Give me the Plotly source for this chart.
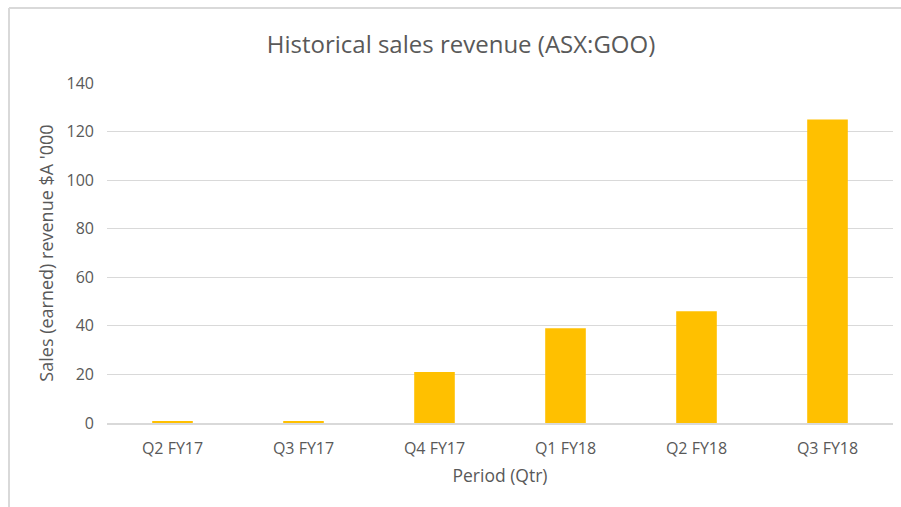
import plotly.graph_objects as go

periods = ["Q2 FY17", "Q3 FY17", "Q4 FY17", "Q1 FY18", "Q2 FY18", "Q3 FY18"]
revenue = [0.6, 0.6, 21, 39, 46, 125]
y_ticks = [0, 20, 40, 60, 80, 100, 120, 140]

W, H = 901, 507
L, R, T, B = 107, 8, 83, 84
pw, ph = W - L - R, H - T - B

def px(x):
    return (x - L) / pw

def py(y):
    return (H - B - y) / ph

FONT = "Open Sans, Liberation Sans, sans-serif"
GRAY = "#595959"

fig = go.Figure(go.Bar(
    x=periods, y=revenue, marker=dict(color="#FFC000", line=dict(width=0)),
    width=0.31,
))

fig.update_layout(
    width=W, height=H,
    margin=dict(l=L, r=R, t=T, b=B),
    paper_bgcolor="white", plot_bgcolor="white",
    showlegend=False,
    font=dict(family=FONT, color=GRAY),
    title=dict(text="Historical sales revenue (ASX:GOO)", xref="container", x=461 / W, xanchor="center",
               y=1 - 45 / H, yanchor="middle",
               font=dict(size=24, color=GRAY, family=FONT)),
    xaxis=dict(showgrid=False, showline=True, linecolor="#d9d9d9", linewidth=1.5,
               ticks="", tickfont=dict(size=16, color=GRAY), ticklabelstandoff=10,
               title=dict(text="Period (Qtr)", font=dict(size=17.5, color=GRAY), standoff=12)),
    yaxis=dict(range=[0, 140], tickvals=y_ticks, showgrid=True, gridcolor="#d9d9d9",
               gridwidth=1, zeroline=False, ticks="", tickfont=dict(size=16, color=GRAY),
               ticklabelstandoff=12,
               title=dict(text="Sales (earned) revenue $A '000", font=dict(size=18, color=GRAY), standoff=8)),
    shapes=[
        dict(type="line", xref="paper", yref="paper", x0=px(9), x1=px(W + 5), y0=py(8), y1=py(8),
             line=dict(color="#d9d9d9", width=2)),
        dict(type="line", xref="paper", yref="paper", x0=px(9), x1=px(9), y0=py(8), y1=py(H + 5),
             line=dict(color="#d9d9d9", width=2)),
    ],
)

fig.write_html("out.html", config={"displayModeBar": False},
               post_script="document.body.style.margin='0';")
